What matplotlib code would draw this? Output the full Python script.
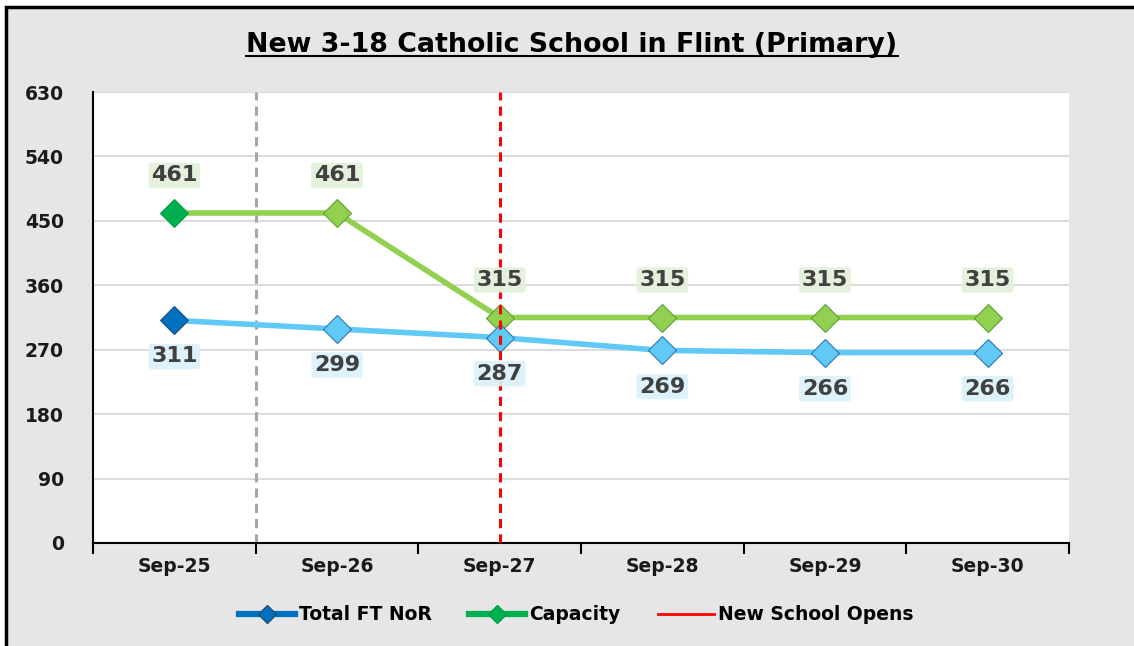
import matplotlib.pyplot as plt
from matplotlib.patches import Rectangle
from matplotlib.lines import Line2D

# data
years = ['Sep-25', 'Sep-26', 'Sep-27', 'Sep-28', 'Sep-29', 'Sep-30']
nor = [311, 299, 287, 269, 266, 266]
capacity = [461, 461, 315, 315, 315, 315]
opens_at = 2          # index of Sep-27
divider_at = 0.5      # grey dashed line between Sep-25 and Sep-26

plt.rcParams['font.family'] = ['DejaVu Sans']

fig = plt.figure(figsize=(11.34, 6.46), dpi=100, facecolor='white')

# grey chart area with black frame (top/left visible)
fig.patches.append(Rectangle((6 / 1134, -0.05), 1.2, 1 - 7 / 646 + 0.05,
                             transform=fig.transFigure, facecolor='#e6e6e6',
                             edgecolor='black', linewidth=2.5, zorder=-10))

ax = fig.add_axes([93 / 1134, 1 - 543 / 646, 976 / 1134, 451 / 646])
ax.set_facecolor('white')

x = list(range(len(years)))

ax.set_ylim(0, 630)
ax.set_xlim(-0.5, len(years) - 0.5)
ax.set_yticks(range(0, 631, 90))
ax.grid(axis='y', color='#d9d9d9', linewidth=1.3)
ax.set_axisbelow(True)

for s in ['top', 'right']:
    ax.spines[s].set_visible(False)
ax.spines['left'].set_linewidth(1.5)
ax.spines['bottom'].set_linewidth(1.5)

ax.set_xticks(x)
ax.set_xticklabels(years, fontsize=13.5, fontweight='bold', color='#1a1a1a')
ax.tick_params(axis='x', which='major', length=0, pad=10)
ax.set_xticks([i - 0.5 for i in range(len(years) + 1)], minor=True)
ax.tick_params(axis='x', which='minor', length=8, width=1.5, direction='out')
ax.tick_params(axis='y', length=0, pad=21, labelsize=13.5, labelcolor='#1a1a1a')
for lab in ax.get_yticklabels():
    lab.set_fontweight('bold')

# vertical markers
ax.axvline(divider_at, color='#a6a6a6', linewidth=2.2, linestyle=(0, (3, 2)), zorder=2)
ax.axvline(opens_at, color='red', linewidth=2.2, linestyle=(0, (3, 2)), zorder=5)

# lines
ax.plot(x, capacity, color='#92d050', linewidth=4, zorder=3)
ax.plot(x, nor, color='#61c9f5', linewidth=4, zorder=3)

for i in x:
    first = i == 0
    ax.plot(i, capacity[i], marker='D', markersize=14,
            markerfacecolor='#00b050' if first else '#92d050',
            markeredgecolor='#00a040' if first else '#5f9e3a',
            markeredgewidth=0.8, zorder=4)
    ax.plot(i, nor[i], marker='D', markersize=14,
            markerfacecolor='#0070c0' if first else '#61c9f5',
            markeredgecolor='#1f4e79' if first else '#2e75b6',
            markeredgewidth=0.8, zorder=4)
    ax.annotate(str(capacity[i]), (i, capacity[i]), xytext=(0, 27),
                textcoords='offset points', ha='center', va='center',
                fontsize=16, fontweight='bold', color='#404040', zorder=6,
                bbox=dict(boxstyle='round,pad=0.12', facecolor='#e2f0d9',
                          edgecolor='none', alpha=0.9))
    ax.annotate(str(nor[i]), (i, nor[i]), xytext=(0, -26),
                textcoords='offset points', ha='center', va='center',
                fontsize=16, fontweight='bold', color='#404040', zorder=6,
                bbox=dict(boxstyle='round,pad=0.12', facecolor='#dbf1fc',
                          edgecolor='none', alpha=0.9))

# title with underline
title = fig.text(572 / 1134, 1 - 45 / 646, 'New 3-18 Catholic School in Flint (Primary)',
                 ha='center', va='center', fontsize=19.3, fontweight='bold',
                 color='black')

handles = [
    Line2D([], [], color='#0070c0', linewidth=4.5, marker='D', markersize=9,
           markerfacecolor='#0070c0', markeredgecolor='#1f4e79'),
    Line2D([], [], color='#00b050', linewidth=4.5, marker='D', markersize=9,
           markerfacecolor='#00b050', markeredgecolor='#00a040'),
    Line2D([], [], color='red', linewidth=2),
]
fig.legend(handles, ['Total FT NoR', 'Capacity', 'New School Opens'],
           loc='center', bbox_to_anchor=(576 / 1134, 1 - 615 / 646), ncol=3,
           frameon=False, handlelength=3.0, handletextpad=0.2, columnspacing=2.0,
           prop={'weight': 'bold', 'size': 13.5})

fig.canvas.draw()
bb = title.get_window_extent().transformed(fig.transFigure.inverted())
fig.add_artist(Line2D([bb.x0, bb.x1], [bb.y0 + 0.003, bb.y0 + 0.003],
                      transform=fig.transFigure, color='black', linewidth=1.5))

fig.savefig('out.png', dpi=100, facecolor=fig.get_facecolor())
